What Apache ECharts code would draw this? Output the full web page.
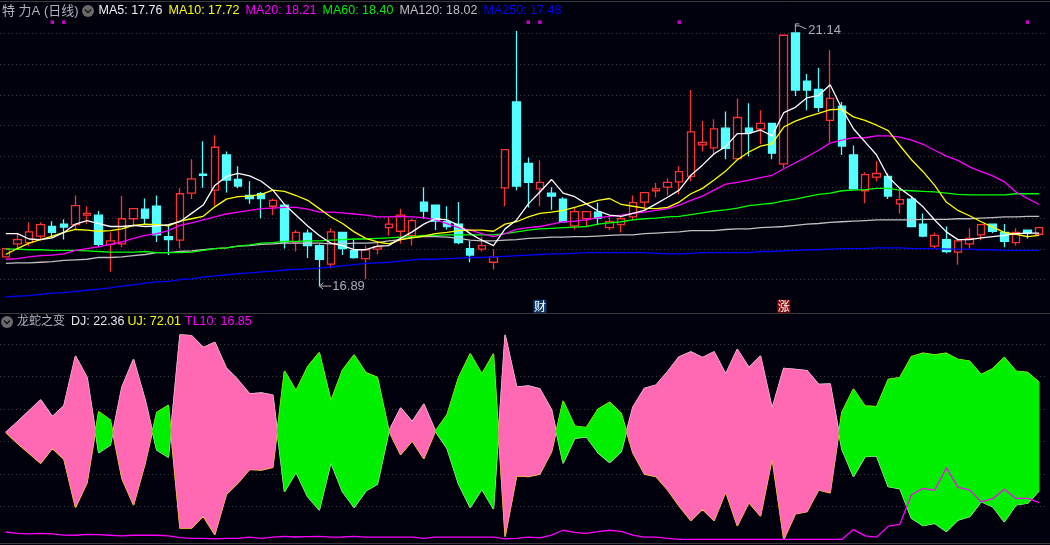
<!DOCTYPE html>
<html>
<head>
<meta charset="utf-8">
<title>特力A (日线)</title>
<script src="https://cdn.jsdelivr.net/npm/echarts@6/dist/echarts.min.js"></script>
<style>
html,body{margin:0;padding:0;background:#01010e;overflow:hidden}
#chart1{width:1050px;height:545px}
</style>
</head>
<body>
<div id="chart1"></div>
<script type="text/javascript">
// K line: open, close, low, high
var candles = [
[17.38,17.52,17.38,17.52],[17.60,17.67,17.53,17.78],[17.62,17.80,17.56,17.96],[17.73,17.92,17.67,17.96],[17.89,17.79,17.70,17.98],
[17.93,17.88,17.67,18.01],[17.92,18.24,17.84,18.41],[18.08,18.11,17.93,18.23],[18.08,17.59,17.55,18.15],[17.59,17.65,17.13,17.79],
[17.60,18.02,17.54,18.40],[18.02,18.19,17.88,18.19],[18.18,18.03,17.93,18.36],[18.23,17.75,17.63,18.41],[17.72,17.67,17.41,17.91],
[17.66,18.44,17.52,18.53],[18.45,18.69,18.35,19.02],[18.77,18.75,18.54,19.32],[18.50,19.22,18.24,19.42],[19.09,18.67,18.46,19.15],
[18.68,18.57,18.53,18.90],[18.41,18.36,18.27,18.65],[18.44,18.36,18.03,18.47],[18.23,18.33,18.08,18.36],[18.25,17.63,17.52,18.25],
[17.63,17.79,17.47,17.83],[17.78,17.57,17.36,17.84],[17.57,17.34,16.89,17.59],[17.26,17.80,17.19,17.86],[17.79,17.52,17.41,17.79],
[17.49,17.37,17.35,17.67],[17.35,17.50,17.01,17.57],[17.51,17.55,17.42,17.64],[17.87,17.93,17.74,18.05],[17.81,18.08,17.60,18.19],
[17.74,17.99,17.57,18.02],[18.30,18.15,18.02,18.55],[18.25,17.98,17.83,18.26],[17.97,17.89,17.84,18.23],[17.93,17.62,17.59,18.30],
[17.52,17.41,17.29,17.65],[17.51,17.57,17.47,17.72],[17.29,17.38,17.17,17.51],[18.54,19.18,18.23,19.18],[19.98,18.57,18.50,21.17],
[18.95,18.63,18.21,19.05],[18.52,18.63,18.23,19.00],[18.45,18.40,18.17,18.55],[18.35,17.97,17.97,18.38],[17.90,18.14,17.84,18.21],
[18.02,18.14,17.89,18.14],[18.13,18.03,17.91,18.29],[17.87,17.97,17.83,18.05],[17.92,18.02,17.79,18.08],[18.05,18.29,18.00,18.41],
[18.30,18.46,18.15,18.46],[18.49,18.52,18.38,18.62],[18.55,18.63,18.41,18.70],[18.64,18.81,18.43,18.90],[18.73,19.48,18.65,20.18],
[19.26,19.30,19.15,19.66],[19.21,19.53,19.09,19.69],[19.54,19.20,19.02,19.82],[19.03,19.72,19.02,20.04],[19.54,19.47,19.07,19.96],
[19.53,19.62,19.27,19.84],[19.62,19.12,19.02,19.62],[18.94,21.10,18.87,21.10],[21.14,20.18,20.08,21.14],[20.33,20.18,19.84,20.45],
[20.19,19.89,19.81,20.55],[19.67,20.04,19.30,20.85],[19.91,19.24,19.09,19.98],[19.09,18.52,18.52,19.25],[18.49,18.76,18.28,18.80],
[18.72,18.78,18.65,18.99],[18.73,18.40,18.35,18.78],[18.27,18.34,18.11,18.53],[18.35,17.89,17.88,18.40],[17.93,17.73,17.71,18.11],
[17.56,17.74,17.52,17.79],[17.67,17.47,17.44,17.89],[17.46,17.65,17.25,17.67],[17.60,17.69,17.52,17.86],[17.75,17.92,17.66,17.92],
[17.93,17.81,17.78,17.93],[17.79,17.64,17.54,17.93],[17.62,17.79,17.57,17.86],[17.83,17.78,17.69,17.84],[17.76,17.87,17.76,17.87]
];
var ma5 = [17.77,17.77,17.68,17.67,17.70,17.79,17.93,17.99,17.94,17.89,17.89,17.91,17.89,17.90,17.92,17.97,18.11,18.25,18.58,18.73,18.78,18.74,18.65,18.50,18.26,18.08,17.90,17.74,17.61,17.57,
17.50,17.50,17.56,17.57,17.69,17.80,17.93,18.02,18.00,17.91,17.77,17.66,17.57,17.85,18.00,18.27,18.47,18.68,18.45,18.39,18.27,18.15,18.08,18.06,18.11,18.16,18.27,18.38,18.50,18.75,
18.92,19.11,19.23,19.45,19.45,19.51,19.41,19.80,19.89,20.05,20.09,20.27,19.87,19.53,19.31,19.09,18.72,18.53,18.39,18.22,18.00,17.80,17.67,17.67,17.70,17.72,17.74,17.77,17.78,17.78];
var ma10 = [17.42,17.52,17.61,17.67,17.73,17.79,17.84,17.83,17.81,17.82,17.85,17.91,17.93,17.92,17.90,17.98,18.02,18.06,18.22,18.35,18.39,18.40,18.43,18.50,18.48,18.41,18.33,18.19,18.05,17.94,
17.80,17.69,17.63,17.60,17.67,17.70,17.73,17.77,17.79,17.82,17.83,17.83,17.81,17.93,17.97,18.05,18.11,18.13,18.16,18.21,18.27,18.33,18.36,18.26,18.23,18.20,18.19,18.21,18.30,18.44,
18.53,18.67,18.82,19.01,19.14,19.24,19.28,19.56,19.66,19.73,19.79,19.85,19.86,19.73,19.67,19.59,19.50,19.25,19.01,18.81,18.58,18.30,18.16,18.07,17.97,17.88,17.79,17.76,17.72,17.74];
var ma20 = [17.34,17.35,17.38,17.40,17.41,17.43,17.49,17.52,17.55,17.59,17.63,17.69,17.74,17.77,17.82,17.91,17.95,18.00,18.05,18.10,18.13,18.16,18.19,18.20,18.21,18.21,18.18,18.13,18.13,18.12,
18.10,18.08,18.05,18.05,18.06,18.05,18.04,18.00,17.94,17.87,17.83,17.77,17.72,17.77,17.84,17.87,17.89,17.93,17.97,17.98,18.00,18.04,18.06,18.08,18.11,18.13,18.16,18.19,18.25,18.33,
18.40,18.50,18.60,18.63,18.67,18.71,18.75,18.86,18.96,19.06,19.17,19.29,19.34,19.38,19.38,19.41,19.41,19.39,19.34,19.27,19.17,19.07,19.00,18.89,18.81,18.74,18.64,18.47,18.36,18.26];
var ma60 = [17.51,17.51,17.50,17.50,17.49,17.49,17.49,17.48,17.47,17.46,17.46,17.46,17.47,17.45,17.45,17.45,17.46,17.49,17.52,17.53,17.56,17.58,17.61,17.62,17.64,17.64,17.65,17.65,17.66,17.67,
17.68,17.68,17.69,17.70,17.71,17.72,17.74,17.74,17.75,17.75,17.75,17.75,17.75,17.77,17.80,17.83,17.85,17.86,17.87,17.88,17.89,17.93,17.95,17.97,18.00,18.02,18.03,18.05,18.06,18.09,
18.12,18.15,18.17,18.20,18.24,18.26,18.28,18.32,18.35,18.39,18.43,18.45,18.49,18.50,18.51,18.53,18.53,18.50,18.49,18.48,18.47,18.45,18.43,18.42,18.42,18.42,18.42,18.44,18.44,18.44];
var ma120 = [17.27,17.28,17.28,17.29,17.30,17.32,17.33,17.34,17.37,17.37,17.38,17.40,17.42,17.45,17.45,17.47,17.48,17.50,17.52,17.53,17.56,17.57,17.59,17.60,17.61,17.61,17.61,17.61,17.60,17.60,
17.61,17.61,17.62,17.65,17.67,17.71,17.72,17.72,17.71,17.69,17.66,17.65,17.65,17.66,17.67,17.69,17.70,17.71,17.71,17.72,17.72,17.73,17.74,17.75,17.75,17.77,17.78,17.79,17.80,17.82,
17.82,17.82,17.84,17.85,17.85,17.87,17.88,17.89,17.91,17.93,17.94,17.96,17.97,17.98,17.99,18.00,18.00,18.00,18.00,18.01,18.01,18.01,18.02,18.02,18.03,18.04,18.05,18.05,18.06,18.06];
var ma250 = [16.71,16.72,16.73,16.75,16.77,16.78,16.80,16.82,16.84,16.86,16.89,16.91,16.94,16.96,16.97,17.00,17.01,17.04,17.06,17.08,17.10,17.11,17.13,17.14,17.16,17.17,17.18,17.19,17.21,17.23,
17.25,17.27,17.28,17.29,17.31,17.33,17.34,17.34,17.35,17.36,17.37,17.37,17.38,17.39,17.40,17.41,17.42,17.43,17.43,17.44,17.45,17.45,17.45,17.45,17.45,17.45,17.44,17.43,17.43,17.44,
17.45,17.45,17.45,17.45,17.45,17.47,17.47,17.48,17.49,17.50,17.50,17.51,17.52,17.52,17.52,17.53,17.53,17.53,17.52,17.52,17.52,17.51,17.51,17.51,17.50,17.50,17.49,17.49,17.49,17.49];

// 龙蛇之变
var dj = [49.1,53.9,58.9,64.0,56.3,61.2,84.1,74.3,39.8,43.3,69.8,82.6,64.0,41.0,37.7,93.8,93.5,88.0,90.4,78.5,73.1,66.7,67.2,66.2,21.9,30.8,19.6,13.5,35.3,21.9,
14.7,22.2,25.3,49.7,60.3,54.0,62.1,49.7,41.8,25.3,14.7,23.0,14.0,93.8,69.8,70.4,69.0,59.4,34.9,46.4,47.1,39.8,35.3,40.2,60.6,69.3,70.8,77.0,83.8,86.0,
83.4,86.1,75.9,87.2,78.8,84.1,60.1,78.5,78.0,77.4,71.1,71.3,41.5,28.8,38.0,38.3,24.2,23.3,9.7,6.3,7.4,3.6,8.9,10.4,17.3,15.0,8.1,15.8,16.6,22.36];
var uj = [49.1,44.1,39.5,34.9,41.8,36.9,14.7,26.0,58.6,54.8,28.0,15.8,34.9,58.2,61.5,5.2,5.2,10.7,2.2,20.7,26.0,32.1,31.8,33.1,77.2,68.2,79.2,85.7,63.5,77.7,
84.6,76.5,74.3,49.7,38.9,45.2,37.0,49.7,57.1,74.3,85.1,75.9,85.1,1.3,29.2,28.8,30.0,40.2,63.5,52.0,51.3,59.7,62.9,57.8,39.8,30.0,28.8,22.7,15.3,8.6,
13.8,8.6,21.8,6.2,16.9,10.7,37.2,0,11.7,12.7,22.7,21.4,58.2,69.0,61.2,60.9,73.4,74.2,83.8,85.4,84.6,85.4,82.6,81.8,75.6,78.3,83.5,77.2,76.6,72.01];
var tl10 = [3.4,2.8,2.5,2.8,2.5,2.0,1.9,2.3,2.2,1.9,1.6,1.9,1.9,1.9,1.6,0.8,0.5,0.5,0.2,0.5,0.5,1.0,0.5,1.0,1.4,1.1,1.3,1.4,1.0,1.1,
1.4,1.0,1.0,1.0,1.0,1.0,0.5,1.0,1.0,1.0,1.0,1.0,1.0,0.2,0.5,1.0,0.7,2.0,4.2,3.2,2.8,3.6,4.2,3.7,2.0,1.0,1.0,0.5,0,0,
0,0,0,0,0,0,0,0,0,0,0,0,0,4.5,1.6,1.0,6.1,6.9,20.5,23.4,22.5,32.9,23.9,22.7,17.2,18.7,23.0,18.8,18.8,16.85];

var days = candles.map(function(c, i){ return 'D' + (i + 1); });
var dotDays = [4, 5, 45, 46, 58, 88];
var dotLevel = 21.32;
var extremes = [[27, 16.89], [68, 21.14]];
var badges = [[46, 16.56, '财', '#0b3a6e'], [67, 16.56, '涨', '#8a0707']];

var legendMain = [
    ['MA5: 17.76', '#f0f0f0', 98.5], ['MA10: 17.72', '#ffff00', 168.5], ['MA20: 18.21', '#ff00ff', 245.5],
    ['MA60: 18.40', '#00f000', 322.5], ['MA120: 18.02', '#c0c0c0', 399.5], ['MA250: 17.48', '#0000ff', 483.5]
];
var legendSub = [['DJ: 22.36', '#e8e8e8', 71], ['UJ: 72.01', '#ffff00', 127.5], ['TL10: 16.85', '#ff00ff', 185]];

var BG = '#01010e', UP = '#ff3232', DOWN = '#54ffff', PINK = '#ff69b4', GREEN = '#00f000';
var FONT = '"Liberation Sans", "Noto Sans CJK SC", sans-serif';

function line(name, data, color, axis, z) {
    return {
        name: name, type: 'line', data: data, xAxisIndex: axis, yAxisIndex: axis === 0 ? 0 : 2,
        showSymbol: false, symbol: 'none', clip: false, z: z, silent: true,
        lineStyle: {color: color, width: 1.3}
    };
}

// 区域填充：两线之间按 DJ/UJ 大小换色，同色的一段合成一个多边形，交叉处断开
function renderBand(params, api) {
    var kids = [], upper = [], lower = [], sign = 0;
    function flush() {
        if (sign !== 0) {
            var c = sign > 0 ? PINK : GREEN;
            kids.push({type: 'polygon', shape: {points: upper.concat(lower.slice().reverse())}, style: {fill: c, stroke: c, lineWidth: 0.6}});
        }
        upper = []; lower = []; sign = 0;
    }
    for (var i = 0; i < days.length; i++) {
        var a = api.coord([i, dj[i]]), b = api.coord([i, uj[i]]);
        var d = dj[i] - uj[i];
        var s = d > 0 ? 1 : (d < 0 ? -1 : 0);
        if (sign !== 0 && s !== 0 && s !== sign) {
            var d0 = dj[i - 1] - uj[i - 1];
            var t = d0 / (d0 - d);
            var a0 = upper[upper.length - 1];
            var p = [a0[0] + (a[0] - a0[0]) * t, a0[1] + (a[1] - a0[1]) * t];
            upper.push(p); lower.push(p);
            flush();
            upper.push(p); lower.push(p);
        }
        upper.push(a); lower.push(b);
        if (s === 0) {
            flush();
            upper.push(a); lower.push(b);
        } else {
            sign = s;
        }
    }
    flush();
    return {type: 'group', children: kids};
}

// 最高最低价标注
function renderExtreme(params, api) {
    var p = api.coord([api.value(0), api.value(1)]);
    var stroke = {stroke: '#b4b4b4', lineWidth: 1, fill: null};
    var txt = {fill: '#a9aeb6', font: '13px ' + FONT, textVerticalAlign: 'middle'};
    if (params.dataIndex === 0) {
        return {type: 'group', children: [
            {type: 'polyline', shape: {points: [[p[0], p[1]], [p[0] + 12, p[1]]]}, style: stroke},
            {type: 'polyline', shape: {points: [[p[0] + 4, p[1] - 3], [p[0], p[1]], [p[0] + 4, p[1] + 3]]}, style: stroke},
            {type: 'text', style: Object.assign({text: api.value(1).toFixed(2), x: p[0] + 13, y: p[1]}, txt)}
        ]};
    }
    return {type: 'group', children: [
        {type: 'polyline', shape: {points: [[p[0], p[1]], [p[0], p[1] - 9], [p[0] + 4, p[1] - 9]]}, style: stroke},
        {type: 'polyline', shape: {points: [[p[0], p[1] - 7], [p[0] + 4, p[1] - 7], [p[0] + 11, p[1] - 4]]}, style: stroke},
        {type: 'text', style: Object.assign({text: api.value(1).toFixed(2), x: p[0] + 13, y: p[1] - 2}, txt)}
    ]};
}

function renderBadge(params, api) {
    var b = badges[params.dataIndex];
    var p = api.coord([b[0], b[1]]);
    return {type: 'group', children: [
        {type: 'rect', shape: {x: p[0] - 6.5, y: p[1] - 6, width: 13, height: 13}, style: {fill: b[3]}},
        {type: 'text', style: {text: b[2], x: p[0], y: p[1] + 0.5, fill: '#fff', font: '12px "Noto Sans CJK SC"', textAlign: 'center', textVerticalAlign: 'middle'}}
    ]};
}

function text(str, x, y, color, size) {
    return {type: 'text', silent: true, x: x, y: y, style: {text: str, fill: color, font: (size || 12.5) + 'px ' + FONT, textVerticalAlign: 'middle'}};
}
function icon(cx, cy) {
    return [
        {type: 'circle', silent: true, shape: {cx: cx, cy: cy, r: 6}, style: {fill: '#6a6a6a'}},
        {type: 'polyline', silent: true, shape: {points: [[cx - 3, cy - 1.5], [cx, cy + 1.5], [cx + 3, cy - 1.5]]}, style: {stroke: '#141414', lineWidth: 1.4, fill: null}}
    ];
}
function rule(y, color) {
    return {type: 'line', silent: true, shape: {x1: 0, y1: y, x2: 1050, y2: y}, style: {stroke: color, lineWidth: 1}};
}

var graphics = [rule(1.5, '#3a3a3a'), rule(313.5, '#3a3a3a'), rule(543.5, '#3a3a3a'), text('特 力A (日线)', 2, 11, '#aeb4ba', 13)]
    .concat(icon(88, 11)).concat(icon(7, 322))
    .concat(legendMain.map(function(l){ return text(l[0], l[2], 11, l[1]); }))
    .concat([text('龙蛇之变', 17, 322, '#aeb4ba', 12)])
    .concat(legendSub.map(function(l){ return text(l[0], l[2], 322, l[1]); }));

function hiddenX(grid) {
    return {type: 'category', gridIndex: grid, data: days, show: false};
}
function dotted() {
    return {show: true, showMinLine: false, showMaxLine: false, lineStyle: {color: '#3c3c3c', type: [1, 3], width: 1}};
}
function bareY(grid, min, max, split) {
    return {
        type: 'value', gridIndex: grid, min: min, max: max, interval: split ? 1 : undefined,
        axisLine: {show: false}, axisTick: {show: false}, axisLabel: {show: false},
        splitLine: split ? dotted() : {show: false}
    };
}

var myChart = echarts.init(document.getElementById('chart1'), null, {renderer: 'canvas'});
var option = {
    animation: false,
    backgroundColor: BG,
    tooltip: {show: false},
    graphic: graphics,
    grid: [
        {left: -1, width: 1046, top: 2.5, height: 308},
        {left: -1, width: 1046, top: 312.7, height: 226.7},
        {left: -1, width: 1046, top: 311.9, height: 226.8}
    ],
    xAxis: [hiddenX(0), hiddenX(1), hiddenX(2)],
    yAxis: [bareY(0, 16.48, 21.65), bareY(0, 0, 10, true), bareY(1, 0, 104), bareY(2, 0, 7, true)],
    series: [
        {
            name: '日线', type: 'candlestick', data: candles, xAxisIndex: 0, yAxisIndex: 0, barWidth: 8, z: 2, silent: true,
            itemStyle: {color: 'transparent', color0: DOWN, borderColor: UP, borderColor0: DOWN, borderWidth: 1.3}
        },
        line('MA250', ma250, '#0000ff', 0, 3),
        line('MA120', ma120, '#c0c0c0', 0, 3),
        line('MA60', ma60, '#00ff00', 0, 3),
        line('MA20', ma20, '#ff00ff', 0, 3),
        line('MA10', ma10, '#ffff00', 0, 3),
        line('MA5', ma5, '#ffffff', 0, 3),
        {
            name: 'dots', type: 'scatter', xAxisIndex: 0, yAxisIndex: 0, symbol: 'rect', symbolSize: 3.5, silent: true, z: 4,
            data: dotDays.map(function(d){ return [d, dotLevel]; }), itemStyle: {color: '#ff00ff'}
        },
        {name: 'extreme', type: 'custom', xAxisIndex: 0, yAxisIndex: 0, silent: true, z: 5, data: extremes, renderItem: renderExtreme, clip: false},
        {name: 'badge', type: 'custom', xAxisIndex: 0, yAxisIndex: 0, silent: true, z: 5, data: badges.map(function(b){ return [b[0], b[1]]; }), renderItem: renderBadge, clip: false},
        line('DJ', dj, '#ffffff', 1, 1),
        line('UJ', uj, '#ffff00', 1, 1),
        {name: 'band', type: 'custom', xAxisIndex: 1, yAxisIndex: 2, silent: true, z: 2, data: [[0]], renderItem: renderBand, clip: false},
        line('TL10', tl10, '#ff00ff', 1, 3)
    ]
};
myChart.setOption(option);
</script>
</body>
</html>
